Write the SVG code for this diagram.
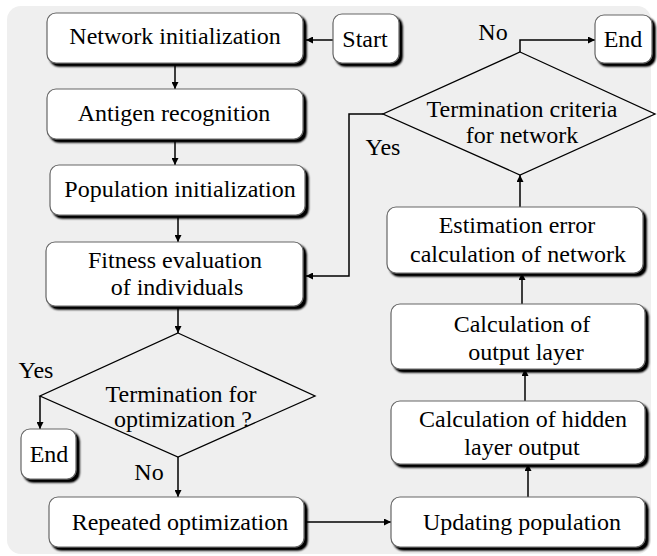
<svg xmlns="http://www.w3.org/2000/svg" width="657" height="556" viewBox="0 0 657 556">
<defs>
<filter id="sh" x="-10%" y="-10%" width="130%" height="140%">
<feGaussianBlur in="SourceAlpha" stdDeviation="1" result="b"/>
<feOffset in="b" dx="3" dy="3" result="o"/>
<feComponentTransfer in="o" result="d"><feFuncA type="linear" slope="1.2"/></feComponentTransfer>
<feMerge><feMergeNode in="d"/><feMergeNode in="SourceGraphic"/></feMerge>
</filter>
<marker id="ah" viewBox="0 0 10 10" refX="10" refY="5" markerWidth="9" markerHeight="7" markerUnits="userSpaceOnUse" orient="auto">
<path d="M0,0 L10,5 L0,10 z" fill="#000"/>
</marker>
</defs>
<style>
.box{fill:#fff;stroke:#666;stroke-width:1.2;filter:url(#sh)}
.dia{fill:none;stroke:#000;stroke-width:1.3}
.t{font-family:'Liberation Serif','Times New Roman',serif;font-size:24px;fill:#000;text-anchor:middle}
.c{fill:none;stroke:#000;stroke-width:1.5;marker-end:url(#ah)}
</style>
<rect x="7" y="6" width="644" height="548" rx="14" fill="#efefef"/>

<g id="connectors">
<path class="c" d="M333,40 H306"/>
<path class="c" d="M175,63 V89"/>
<path class="c" d="M175,139 V165"/>
<path class="c" d="M178,215 V242"/>
<path class="c" d="M178,306 V333"/>
<path class="c" d="M178,457 V497"/>
<path class="c" d="M40,396 V429"/>
<path class="c" d="M304,522 H391"/>
<path class="c" d="M528,497 V464"/>
<path class="c" d="M525,401 V369"/>
<path class="c" d="M522,304 V273"/>
<path class="c" d="M520,207 V175"/>
<path class="c" d="M520,52 V40 H595"/>
<path class="c" d="M383,114 H349 V276 H306"/>
</g>

<g id="start"><rect class="box" x="333" y="14" width="66" height="49" rx="9"/><text class="t" x="365" y="47">Start</text></g>
<g id="network-init"><rect class="box" x="47" y="13" width="256" height="50" rx="9"/><text class="t" x="175" y="44">Network initialization</text></g>
<g id="antigen"><rect class="box" x="47" y="89" width="256" height="50" rx="9"/><text class="t" x="174" y="121">Antigen recognition</text></g>
<g id="population-init"><rect class="box" x="50" y="165" width="255" height="50" rx="9"/><text class="t" x="180" y="197">Population initialization</text></g>
<g id="fitness"><rect class="box" x="46" y="242" width="257" height="64" rx="9"/><text class="t" x="175" y="268">Fitness evaluation</text><text class="t" x="177" y="295">of individuals</text></g>
<g id="term-opt"><path class="dia" d="M178,333 L315,396 L178,457 L40,396 Z"/><text class="t" x="181" y="402">Termination for</text><text class="t" x="183" y="427">optimization ?</text></g>
<g id="yes-left"><text class="t" x="36" y="378">Yes</text></g>
<g id="no-bottom"><text class="t" x="149" y="480">No</text></g>
<g id="end-left"><rect class="box" x="21" y="429" width="55" height="50" rx="9"/><text class="t" x="49" y="462">End</text></g>
<g id="repeated"><rect class="box" x="49" y="497" width="255" height="50" rx="9"/><text class="t" x="180" y="530">Repeated optimization</text></g>
<g id="updating"><rect class="box" x="391" y="497" width="254" height="50" rx="9"/><text class="t" x="522" y="530">Updating population</text></g>
<g id="hidden"><rect class="box" x="391" y="401" width="254" height="63" rx="9"/><text class="t" x="523" y="427">Calculation of hidden</text><text class="t" x="522" y="455">layer output</text></g>
<g id="output"><rect class="box" x="391" y="304" width="254" height="65" rx="9"/><text class="t" x="522" y="332">Calculation of</text><text class="t" x="526" y="360">output layer</text></g>
<g id="estimation"><rect class="box" x="387" y="207" width="256" height="66" rx="9"/><text class="t" x="517" y="233">Estimation error</text><text class="t" x="518" y="262">calculation of network</text></g>
<g id="term-net"><path class="dia" d="M520,52 L655,114 L520,175 L383,114 Z"/><text class="t" x="522" y="117">Termination criteria</text><text class="t" x="522" y="143">for network</text></g>
<g id="yes-right"><text class="t" x="383" y="155">Yes</text></g>
<g id="no-top"><text class="t" x="493" y="40">No</text></g>
<g id="end-right"><rect class="box" x="595" y="15" width="57" height="48" rx="9"/><text class="t" x="623" y="47">End</text></g>
</svg>
